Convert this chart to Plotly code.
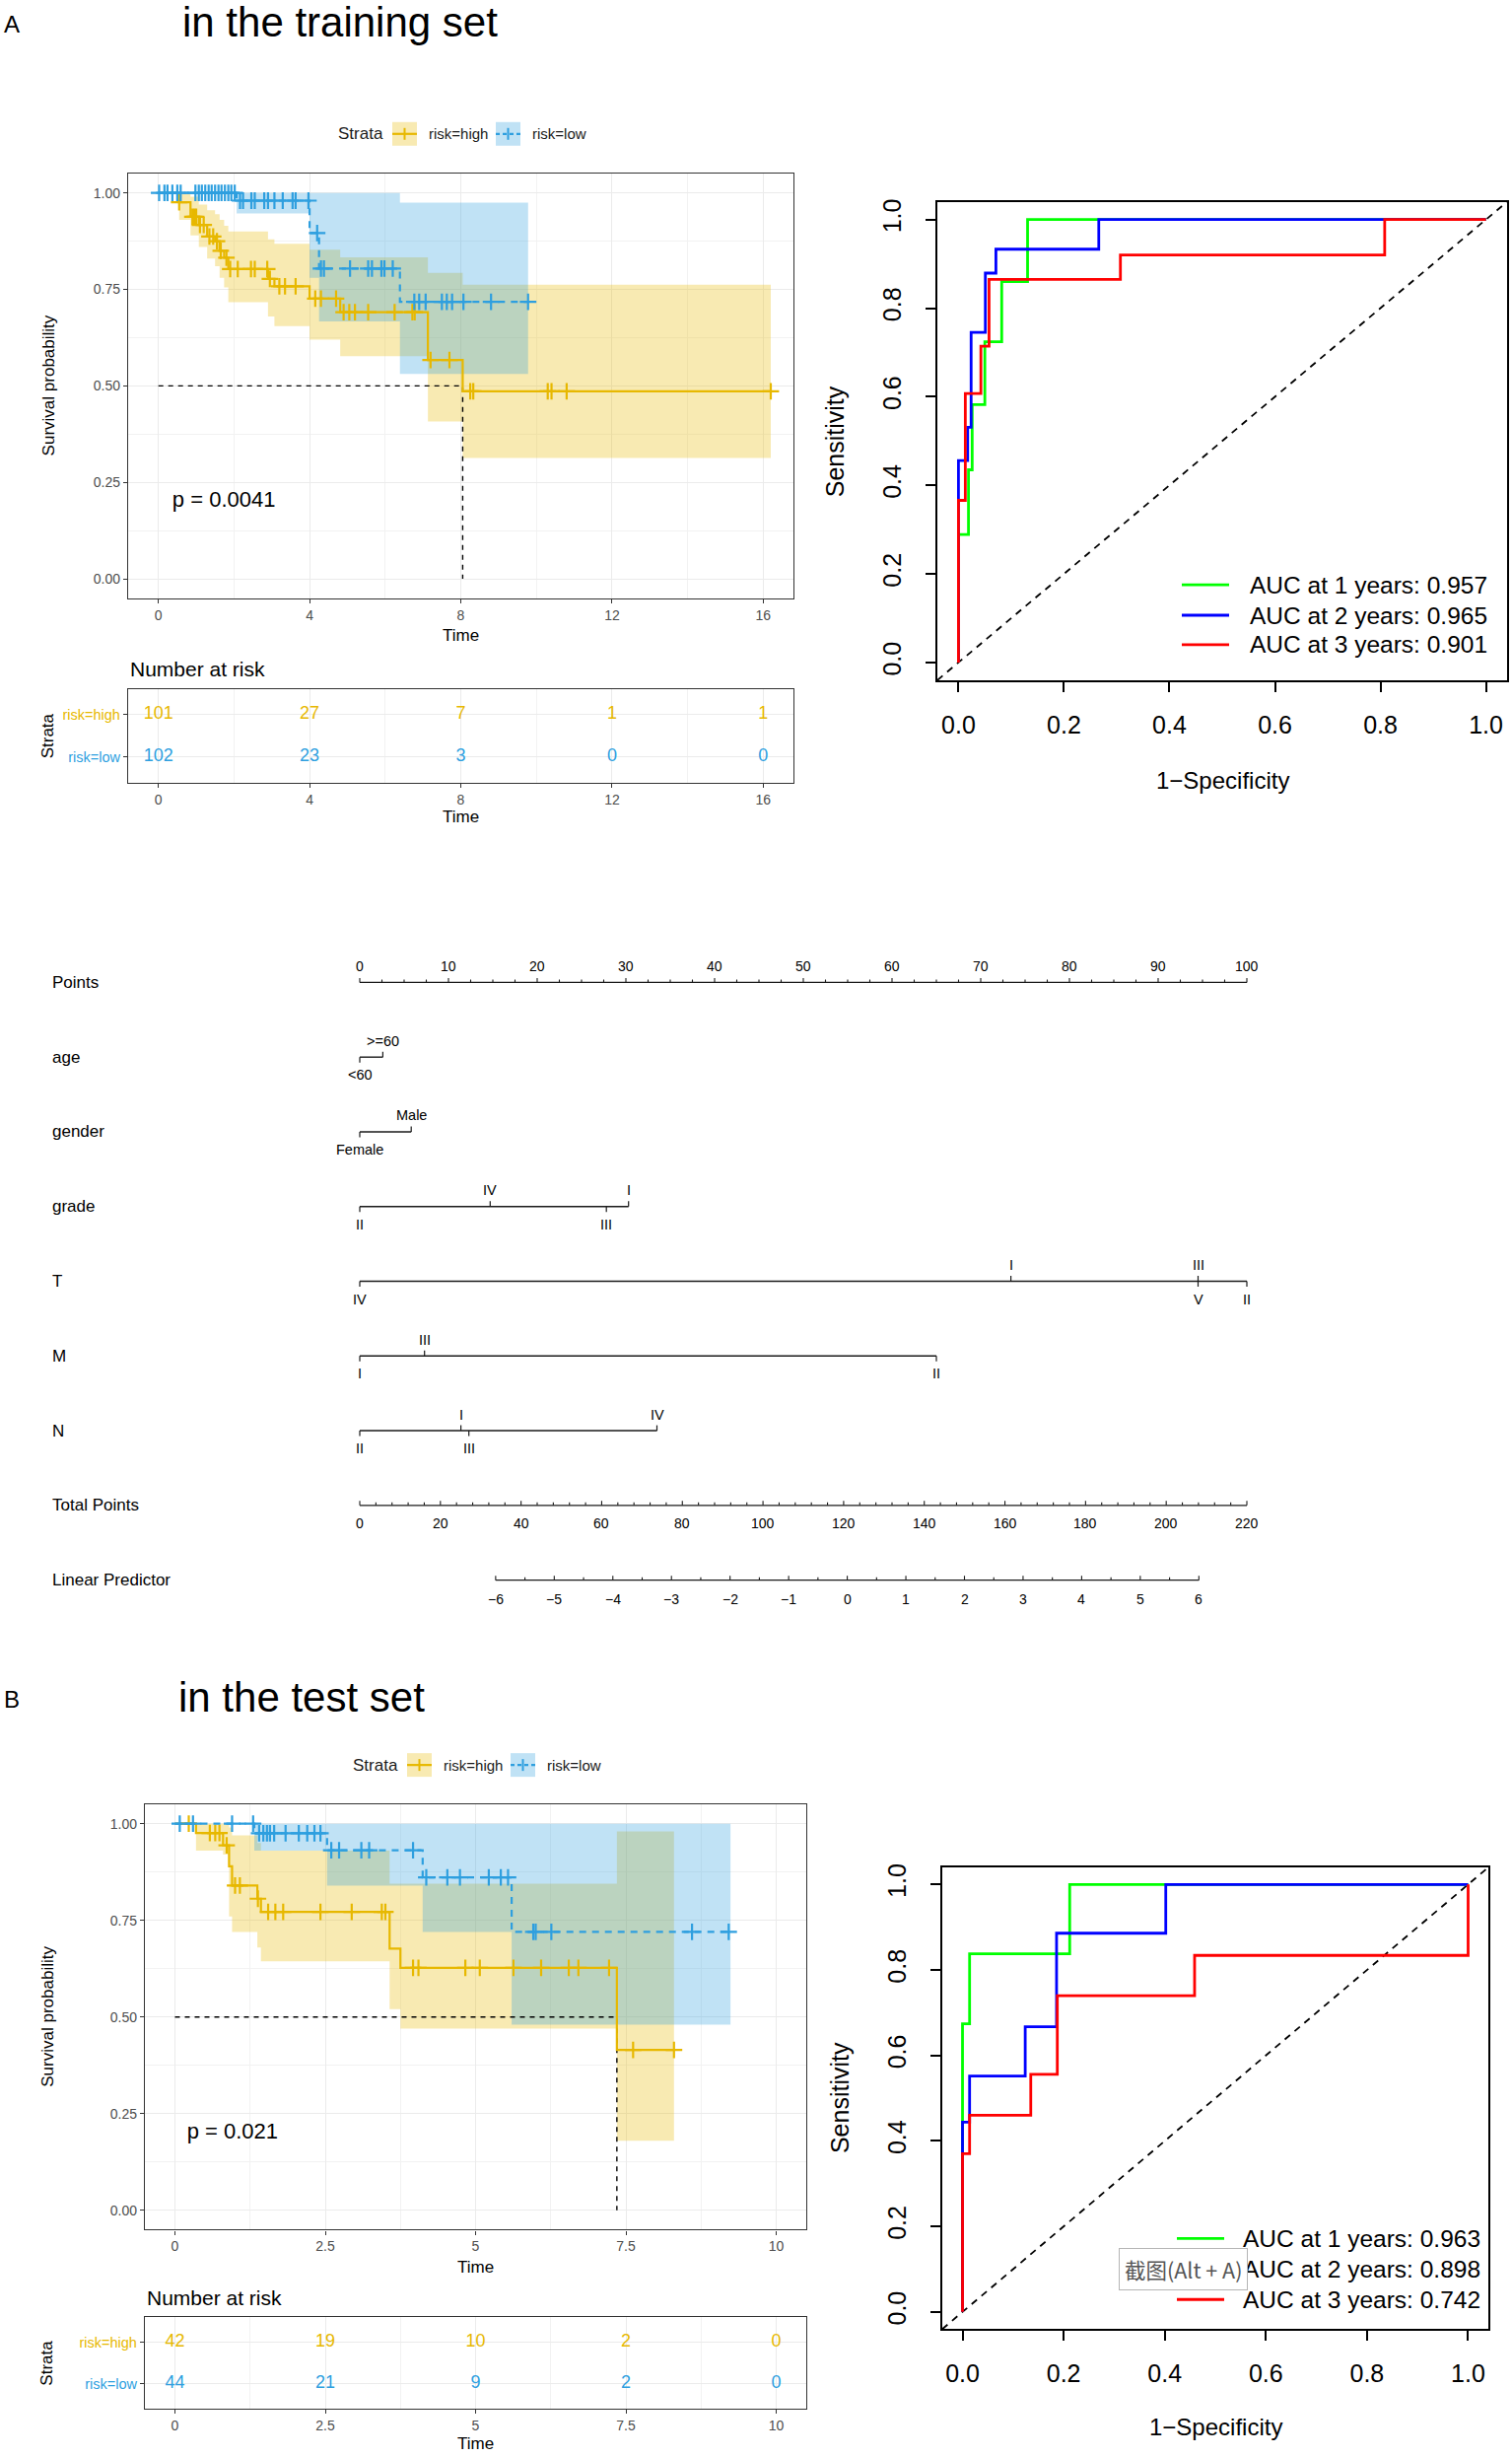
import plotly.graph_objects as go

W, H = 1534, 2492
FONT = "Liberation Sans, Arial, Helvetica, sans-serif"
GOLD, BLUE = "#E7B800", "#2E9FDF"
GOLD_FILL, BLUE_FILL = "rgba(231,184,0,0.30)", "rgba(46,159,223,0.30)"

# ====================== DATA ======================
# ---- A: training set, Kaplan-Meier ----
trn_high_time  = [0, 0.55, 0.85, 1.07, 1.29, 1.50, 1.62, 1.74, 1.85, 2.90, 3.07, 4.00, 4.81, 7.13, 8.05]
trn_high_surv  = [1.0, 0.976, 0.938, 0.917, 0.887, 0.875, 0.850, 0.832, 0.803, 0.777, 0.758, 0.726, 0.691, 0.567, 0.486]
trn_high_upper = [1.0, 1.0, 0.99, 0.97, 0.955, 0.945, 0.93, 0.915, 0.90, 0.88, 0.868, 0.853, 0.833, 0.793, 0.762]
trn_high_lower = [1.0, 0.93, 0.89, 0.86, 0.83, 0.81, 0.78, 0.755, 0.717, 0.68, 0.655, 0.62, 0.577, 0.408, 0.313]
trn_high_last = 16.2
trn_high_censor = [0.55, 0.90, 0.95, 1.00, 1.10, 1.20, 1.35, 1.45, 1.55, 1.65, 1.80, 1.90, 2.10, 2.45,
                   2.55, 2.88, 2.95, 3.20, 3.35, 3.63, 4.15, 4.30, 4.70, 4.90, 5.05, 5.20, 5.55, 6.25,
                   6.72, 6.78, 7.20, 7.70, 8.25, 8.33, 10.3, 10.4, 10.8, 16.2]
trn_low_time  = [0, 2.07, 4.00, 4.25, 6.39]
trn_low_surv  = [1.0, 0.980, 0.896, 0.804, 0.718]
trn_low_upper = [1.0, 1.0, 1.0, 1.0, 0.975]
trn_low_lower = [1.0, 0.947, 0.78, 0.667, 0.531]
trn_low_last = 9.78
trn_low_censor = [0.02, 0.16, 0.24, 0.37, 0.50, 0.59, 0.98, 1.07, 1.15, 1.24, 1.33, 1.41, 1.50, 1.59,
                  1.67, 1.76, 1.85, 1.93, 2.02, 2.16, 2.24, 2.46, 2.55, 2.80, 2.90, 3.07, 3.29, 3.55,
                  3.63, 3.97, 4.20, 4.30, 4.38, 5.07, 5.55, 5.65, 5.90, 5.98, 6.20, 6.77, 6.90, 7.07,
                  7.50, 7.63, 7.77, 8.07, 8.80, 9.78]
trn_risk_time = [0, 4, 8, 12, 16]
trn_risk_high = [101, 27, 7, 1, 1]
trn_risk_low = [102, 23, 3, 0, 0]
trn_pval = "p = 0.0041"

# ---- B: test set, Kaplan-Meier ----
tst_high_time  = [0, 0.35, 0.80, 0.90, 0.95, 1.37, 1.43, 3.57, 3.75, 7.35]
tst_high_surv  = [1.0, 0.976, 0.944, 0.890, 0.840, 0.806, 0.772, 0.677, 0.627, 0.415]
tst_high_upper = [1.0, 1.0, 1.0, 0.99, 0.97, 0.95, 0.93, 0.845, 0.845, 0.98]
tst_high_lower = [1.0, 0.93, 0.92, 0.76, 0.72, 0.68, 0.644, 0.52, 0.47, 0.18]
tst_high_last = 8.3
tst_high_censor = [0.23, 0.58, 0.67, 0.74, 0.86, 1.00, 1.08, 1.38, 1.55, 1.67, 1.80, 2.42, 2.94,
                   3.44, 3.50, 3.96, 4.05, 4.83, 5.07, 5.63, 6.09, 6.55, 6.71, 7.22, 7.62, 8.30]
tst_low_time  = [0, 1.32, 2.53, 4.12, 5.60]
tst_low_surv  = [1.0, 0.975, 0.931, 0.861, 0.720]
tst_low_upper = [1.0, 1.0, 1.0, 1.0, 1.0]
tst_low_lower = [1.0, 0.93, 0.84, 0.72, 0.48]
tst_low_last = 9.24
tst_low_censor = [0.08, 0.30, 0.95, 1.30, 1.40, 1.47, 1.53, 1.58, 1.65, 1.84, 2.06, 2.20, 2.32, 2.42,
                  2.60, 2.73, 3.10, 3.23, 3.96, 4.18, 4.53, 4.74, 5.22, 5.42, 5.54, 5.96, 6.00, 6.26,
                  8.60, 9.21]
tst_risk_time = [0, 2.5, 5, 7.5, 10]
tst_risk_high = [42, 19, 10, 2, 0]
tst_risk_low = [44, 21, 9, 2, 0]
tst_pval = "p = 0.021"

# ---- ROC curves (1-Specificity, Sensitivity) ----
trn_roc1_fpr = [0, 0, 0.019, 0.019, 0.026, 0.026, 0.050, 0.050, 0.082, 0.082, 0.131, 0.131, 1]
trn_roc1_tpr = [0, 0.289, 0.289, 0.435, 0.435, 0.582, 0.582, 0.724, 0.724, 0.860, 0.860, 1, 1]
trn_roc2_fpr = [0, 0, 0.0175, 0.0175, 0.024, 0.024, 0.051, 0.051, 0.071, 0.071, 0.266, 0.266, 1]
trn_roc2_tpr = [0, 0.456, 0.456, 0.531, 0.531, 0.745, 0.745, 0.879, 0.879, 0.933, 0.933, 1, 1]
trn_roc3_fpr = [0, 0, 0.013, 0.013, 0.0425, 0.0425, 0.058, 0.058, 0.307, 0.307, 0.808, 0.808, 1]
trn_roc3_tpr = [0, 0.366, 0.366, 0.607, 0.607, 0.714, 0.714, 0.865, 0.865, 0.920, 0.920, 1, 1]
trn_auc = ["AUC at 1 years: 0.957", "AUC at 2 years: 0.965", "AUC at 3 years: 0.901"]

tst_roc1_fpr = [0, 0, 0.014, 0.014, 0.212, 0.212, 1]
tst_roc1_tpr = [0, 0.674, 0.674, 0.838, 0.838, 1, 1]
tst_roc2_fpr = [0, 0, 0.014, 0.014, 0.124, 0.124, 0.186, 0.186, 0.402, 0.402, 1]
tst_roc2_tpr = [0, 0.444, 0.444, 0.552, 0.552, 0.667, 0.667, 0.886, 0.886, 1, 1]
tst_roc3_fpr = [0, 0, 0.014, 0.014, 0.135, 0.135, 0.1875, 0.1875, 0.459, 0.459, 1, 1]
tst_roc3_tpr = [0, 0.370, 0.370, 0.460, 0.460, 0.556, 0.556, 0.740, 0.740, 0.834, 0.834, 1]
tst_auc = ["AUC at 1 years: 0.963", "AUC at 2 years: 0.898", "AUC at 3 years: 0.742"]
roc_ticks = [0, 0.2, 0.4, 0.6, 0.8, 1.0]

# ---- Nomogram ----
nomo_row_labels = ["Points", "age", "gender", "grade", "T", "M", "N", "Total Points", "Linear Predictor"]
age_levels, age_pts = ["<60", ">=60"], [0, 2.6]
gender_levels, gender_pts = ["Female", "Male"], [0, 5.8]
grade_levels, grade_pts = ["II", "IV", "III", "I"], [0, 14.7, 27.8, 30.3]
T_levels, T_pts = ["IV", "I", "III", "V", "II"], [0, 73.4, 94.5, 94.5, 100]
M_levels, M_pts = ["I", "III", "II"], [0, 7.3, 65]
N_levels, N_pts = ["II", "I", "III", "IV"], [0, 11.4, 12.3, 33.5]
points_ticks = [0, 10, 20, 30, 40, 50, 60, 70, 80, 90, 100]
total_ticks = [0, 20, 40, 60, 80, 100, 120, 140, 160, 180, 200, 220]
lp_ticks = [-6, -5, -4, -3, -2, -1, 0, 1, 2, 3, 4, 5, 6]
lp_total_at_ends = [33.7, 208.1]   # total points corresponding to LP -6 and 6

# ====================== HELPERS ======================
fig = go.Figure()
annotations, shapes, layout_axes = [], [], {}


def PX(x):
    return x / W


def PY(y):
    return 1 - y / H


def dom_x(l, r):
    return [l / W, r / W]


def dom_y(t, b):
    return [1 - b / H, 1 - t / H]


def axkey(c, i):
    return f"{c}axis" if i == 1 else f"{c}axis{i}"


def aref(c, i):
    return c if i == 1 else f"{c}{i}"


def ann(text, x, y, size, color="black", xanchor="center", yanchor="middle", angle=0, family=FONT, **kw):
    d = dict(text=text, x=PX(x), y=PY(y), xref="paper", yref="paper", showarrow=False,
             font=dict(size=size, color=color, family=family), xanchor=xanchor, yanchor=yanchor,
             textangle=angle)
    d.update(kw)
    annotations.append(d)


def pline(x0, y0, x1, y1, color, width, dash="solid"):
    shapes.append(dict(type="line", xref="paper", yref="paper", x0=PX(x0), y0=PY(y0), x1=PX(x1), y1=PY(y1),
                       line=dict(color=color, width=width, dash=dash)))


def prect(x0, y0, x1, y1, fill):
    shapes.append(dict(type="rect", xref="paper", yref="paper", x0=PX(x0), y0=PY(y0), x1=PX(x1), y1=PY(y1),
                       fillcolor=fill, line=dict(width=0)))


def steps(times, vals, last):
    xs, ys = [], []
    for i, t in enumerate(times):
        nxt = times[i + 1] if i + 1 < len(times) else last
        xs += [t, nxt]
        ys += [vals[i], vals[i]]
    return xs, ys


def value_at(times, vals, t):
    v = vals[0]
    for ti, vi in zip(times, vals):
        if ti <= t:
            v = vi
    return v


def add(trace, i):
    trace.update(xaxis=aref("x", i), yaxis=aref("y", i), hoverinfo="skip", showlegend=False)
    fig.add_trace(trace)


GG_TICKFONT = dict(size=14, color="#4D4D4D", family=FONT)


def gg_axis(domain, rng, anchor, **kw):
    d = dict(domain=domain, range=rng, anchor=anchor, ticks="outside", ticklen=4, tickwidth=1.1,
             tickcolor="#333333", showline=True, mirror=True, linecolor="#333333", linewidth=1.3,
             showgrid=True, gridcolor="#EBEBEB", gridwidth=1.1, zeroline=False, tickfont=GG_TICKFONT,
             fixedrange=True)
    d.update(kw)
    return d


# ====================== KM PANELS ======================
def km_panel(im, it, box, tbox, xmax, dtick, groups, risk_time, risk_rows, pval, pval_x, leg):
    l, t, r, b = box
    pad = 0.05 * xmax
    xr = [-pad, xmax + pad]
    for g in groups:
        ux, uy = steps(g["time"], g["upper"], g["last"])
        lx, ly = steps(g["time"], g["lower"], g["last"])
        add(go.Scatter(x=ux + lx[::-1], y=uy + ly[::-1], mode="lines", fill="toself",
                       fillcolor=g["fill"], line=dict(width=0)), im)
    for g in groups:
        below = [tt for tt, s in zip(g["time"], g["surv"]) if s <= 0.5]
        if below:
            med = below[0]
            add(go.Scatter(x=[0, med, med], y=[0.5, 0.5, 0], mode="lines",
                           line=dict(color="black", width=1.4, dash="5px,5px")), im)
    for g in groups:
        sx, sy = steps(g["time"], g["surv"], g["last"])
        add(go.Scatter(x=sx, y=sy, mode="lines", line=dict(color=g["color"], width=2.2, dash=g["dash"])), im)
        cy = [value_at(g["time"], g["surv"], c) for c in g["censor"]]
        add(go.Scatter(x=g["censor"], y=cy, mode="markers",
                       marker=dict(symbol="cross-thin", size=12, color=g["color"],
                                   line=dict(color=g["color"], width=2.2))), im)
    add(go.Scatter(x=[pval_x], y=[0.2], mode="text", text=[pval], textposition="middle right",
                   textfont=dict(size=22, color="black", family=FONT)), im)

    layout_axes[axkey("x", im)] = gg_axis(dom_x(l, r), xr, aref("y", im), tickmode="linear", tick0=0,
                                          dtick=dtick, minor=dict(tick0=0, dtick=dtick / 2, showgrid=True,
                                                                  gridcolor="#F2F2F2", gridwidth=0.8))
    layout_axes[axkey("y", im)] = gg_axis(dom_y(t, b), [-0.05, 1.05], aref("x", im), tickmode="linear",
                                          tick0=0, dtick=0.25, tickformat=".2f",
                                          minor=dict(tick0=0, dtick=0.125, showgrid=True,
                                                     gridcolor="#F2F2F2", gridwidth=0.8))
    tl, tt_, tr, tb = tbox
    for yv, (vals, col) in zip([2, 1], risk_rows):
        add(go.Scatter(x=risk_time, y=[yv] * len(vals), mode="text", text=[str(v) for v in vals],
                       textfont=dict(size=18, color=col, family=FONT)), it)
    layout_axes[axkey("x", it)] = gg_axis(dom_x(tl, tr), xr, aref("y", it), tickmode="linear", tick0=0,
                                          dtick=dtick, minor=dict(tick0=0, dtick=dtick / 2, showgrid=True,
                                                                  gridcolor="#F2F2F2", gridwidth=0.8))
    layout_axes[axkey("y", it)] = gg_axis(dom_y(tt_, tb), [0.4, 2.6], aref("x", it), tickmode="array",
                                          tickvals=[1, 2],
                                          ticktext=[f'<span style="color:{BLUE}">risk=low</span>',
                                                    f'<span style="color:{GOLD}">risk=high</span>'],
                                          tickfont=dict(size=14.5, family=FONT))
    cx = (l + r) / 2
    ann("Time", cx, b + 38, 17)
    ann("Survival probability", 49, (t + b) / 2, 17, angle=-90)
    ann("Number at risk", tl, tt_ - 20, 21, xanchor="left")
    ann("Time", cx, tb + 35, 17)
    ann("Strata", 48, (tt_ + tb) / 2, 17, angle=-90)
    ly, sx0 = leg
    ann("Strata", sx0, ly, 17, color="#1A1A1A")
    keys = [(sx0 + 32, GOLD, GOLD_FILL, "solid", "risk=high", sx0 + 67),
            (sx0 + 137, BLUE, BLUE_FILL, "dash", "risk=low", sx0 + 172)]
    for kx, col, fill, dash, lab, tx in keys:
        prect(kx, ly - 12, kx + 25, ly + 12, fill)
        pline(kx, ly, kx + 25, ly, col, 2.2, "4px,3px" if dash == "dash" else "solid")
        pline(kx + 12.5, ly - 6, kx + 12.5, ly + 6, col, 2)
        ann(lab, tx, ly, 15, color="#1A1A1A", xanchor="left")


km_panel(1, 2, (130, 172.4, 805, 603.6), (130, 696, 805, 791), 16, 4,
         [dict(time=trn_high_time, surv=trn_high_surv, upper=trn_high_upper, lower=trn_high_lower,
               last=trn_high_last, censor=trn_high_censor, color=GOLD, fill=GOLD_FILL, dash="solid"),
          dict(time=trn_low_time, surv=trn_low_surv, upper=trn_low_upper, lower=trn_low_lower,
               last=trn_low_last, censor=trn_low_censor, color=BLUE, fill=BLUE_FILL, dash="7px,6px")],
         trn_risk_time, [(trn_risk_high, GOLD), (trn_risk_low, BLUE)], trn_pval, 0.37, (132, 366))

km_panel(4, 5, (147, 1829, 818, 2261), (147, 2350, 818, 2443), 10, 2.5,
         [dict(time=tst_high_time, surv=tst_high_surv, upper=tst_high_upper, lower=tst_high_lower,
               last=tst_high_last, censor=tst_high_censor, color=GOLD, fill=GOLD_FILL, dash="solid"),
          dict(time=tst_low_time, surv=tst_low_surv, upper=tst_low_upper, lower=tst_low_lower,
               last=tst_low_last, censor=tst_low_censor, color=BLUE, fill=BLUE_FILL, dash="7px,6px")],
         tst_risk_time, [(tst_risk_high, GOLD), (tst_risk_low, BLUE)], tst_pval, 0.2, (1789, 381))


# ====================== ROC PANELS ======================
def roc_panel(i, box, curves, labels, leg, xlab_off):
    l, t, r, b = box
    rng = [-0.04, 1.04]
    add(go.Scatter(x=rng, y=rng, mode="lines", line=dict(color="black", width=1.8, dash="7px,6px")), i)
    for (fx, ty), col in zip(curves, ["#00FF00", "#0000FF", "#FF0000"]):
        add(go.Scatter(x=fx, y=ty, mode="lines", line=dict(color=col, width=2.8)), i)
    common = dict(range=rng, tickmode="array", tickvals=roc_ticks, tickformat=".1f", ticks="outside",
                  ticklen=10, tickwidth=1.5, tickcolor="black", showline=True, mirror=True,
                  linecolor="black", linewidth=1.5, showgrid=False, zeroline=False,
                  tickfont=dict(size=25, color="black", family=FONT), fixedrange=True)
    layout_axes[axkey("x", i)] = dict(domain=dom_x(l, r), anchor=aref("y", i), ticklabelstandoff=12, **common)
    layout_axes[axkey("y", i)] = dict(domain=dom_y(t, b), anchor=aref("x", i), tickangle=-90,
                                      ticklabelstandoff=15, **common)
    ann("1\u2212Specificity", (l + r) / 2, b + xlab_off, 24)
    ann("Sensitivity", l - 104, (t + b) / 2, 25, angle=-90)
    lx0, lx1, tx, rows = leg
    for lab, col, yy in zip(labels, ["#00FF00", "#0000FF", "#FF0000"], rows):
        pline(lx0, yy, lx1, yy, col, 2.8)
        ann(lab, tx, yy, 24.5, xanchor="left")


roc_panel(3, (951, 201, 1529, 687),
          [(trn_roc1_fpr, trn_roc1_tpr), (trn_roc2_fpr, trn_roc2_tpr), (trn_roc3_fpr, trn_roc3_tpr)],
          trn_auc, (1199, 1247, 1266, [590, 621, 651]), 102)
roc_panel(6, (956, 1893, 1510, 2362),
          [(tst_roc1_fpr, tst_roc1_tpr), (tst_roc2_fpr, tst_roc2_tpr), (tst_roc3_fpr, tst_roc3_tpr)],
          tst_auc, (1194, 1242, 1259, [2270, 2301, 2332]), 99)
ann("截图(Alt + A)", 1200, 2301, 21.5, color="#555555", family="Noto Sans CJK SC",
    bgcolor="white", bordercolor="#B5B5B5", borderwidth=1, borderpad=5)

# ====================== NOMOGRAM ======================
PTS0, PTS100 = 365, 1265
ROW0, ROWSTEP = 994, 75.9
NT, NB = 940, 1660
unit = (PTS100 - PTS0) / 100.0


def row_py(k):
    return ROW0 + ROWSTEP * k


layout_axes["xaxis7"] = dict(domain=[0, 1], range=[-PTS0 / unit, (W - PTS0) / unit], anchor="y7",
                             visible=False, fixedrange=True)
layout_axes["yaxis7"] = dict(domain=dom_y(NT, NB), range=[(NB - ROW0) / ROWSTEP, (NT - ROW0) / ROWSTEP],
                             anchor="x7", visible=False, fixedrange=True)

NOMO_LINE = "#1A1A1A"


def nomo_label(text, x, k, shift, size=14.5):
    annotations.append(dict(text=text.replace("<", "&lt;").replace(">", "&gt;"), x=x, y=k, xref="x7",
                            yref="y7", showarrow=False, yshift=shift,
                            font=dict(size=size, color="black", family=FONT),
                            xanchor="center", yanchor="middle"))


sides = {
    "age": ["b", "a"], "gender": ["b", "a"], "grade": ["b", "a", "b", "a"],
    "T": ["b", "a", "a", "b", "b"], "M": ["b", "a", "b"], "N": ["b", "a", "b", "a"],
}
variables = [("age", age_levels, age_pts), ("gender", gender_levels, gender_pts),
             ("grade", grade_levels, grade_pts), ("T", T_levels, T_pts),
             ("M", M_levels, M_pts), ("N", N_levels, N_pts)]
lvl_tick = 5.5 / ROWSTEP
for k, (name, levels, pts) in enumerate(variables, start=1):
    add(go.Scatter(x=[min(pts), max(pts)], y=[k, k], mode="lines", line=dict(color=NOMO_LINE, width=1.4)), 7)
    tx, ty = [], []
    for lev, p, s in zip(levels, pts, sides[name]):
        tx += [p, p, None]
        ty += [k, k - lvl_tick if s == "a" else k + lvl_tick, None]
        nomo_label(lev, p, k, 16.5 if s == "a" else -18)
    add(go.Scatter(x=tx, y=ty, mode="lines", line=dict(color=NOMO_LINE, width=1.2)), 7)

for k, lab in enumerate(nomo_row_labels):
    ann(lab, 51, row_py(k), 17, xanchor="left")


def scale_row(k, major, minor_step, to_pts, label_shift):
    """Draw a scale (axis) row of the nomogram in the shared points coordinate system."""
    lo, hi = major[0], major[-1]
    add(go.Scatter(x=[to_pts(lo), to_pts(hi)], y=[k, k], mode="lines",
                   line=dict(color=NOMO_LINE, width=1.4)), 7)
    n_minor = int(round((hi - lo) / minor_step))
    vals = [lo + minor_step * j for j in range(n_minor + 1)]
    tx, ty = [], []
    for v in vals:
        is_major = any(abs(v - m) < 1e-9 for m in major)
        tl = (4.5 if is_major else 3.0) / ROWSTEP
        tx += [to_pts(v), to_pts(v), None]
        ty += [k, k - tl, None]
    add(go.Scatter(x=tx, y=ty, mode="lines", line=dict(color=NOMO_LINE, width=1.1)), 7)
    for v in major:
        txt = str(v).replace("-", "\u2212")
        nomo_label(txt, to_pts(v), k, label_shift, size=14)


TOTAL_MAX = total_ticks[-1]


def total_to_pts(v):
    return v * 100.0 / TOTAL_MAX


def lp_to_pts(v):
    frac = (v - lp_ticks[0]) / (lp_ticks[-1] - lp_ticks[0])
    tp = lp_total_at_ends[0] + frac * (lp_total_at_ends[1] - lp_total_at_ends[0])
    return total_to_pts(tp)


scale_row(0, points_ticks, 2.5, lambda v: v, 16.5)
scale_row(7, total_ticks, 4, total_to_pts, -18)
scale_row(8, lp_ticks, 0.5, lp_to_pts, -19)

# ====================== TITLES ======================
ann("A", 2, 21, 24, xanchor="left")
ann("in the training set", 183, 19, 42, xanchor="left")
ann("B", 2, 1722, 24, xanchor="left")
ann("in the test set", 179, 1720, 42, xanchor="left")

fig.update_layout(width=W, height=H, margin=dict(l=0, r=0, t=0, b=0), paper_bgcolor="white",
                  plot_bgcolor="white", showlegend=False, font=dict(family=FONT),
                  annotations=annotations, shapes=shapes, **layout_axes)
fig.write_html("out.html", config={"displayModeBar": False},
               post_script="document.body.style.margin='0';document.body.style.overflow='hidden';")
